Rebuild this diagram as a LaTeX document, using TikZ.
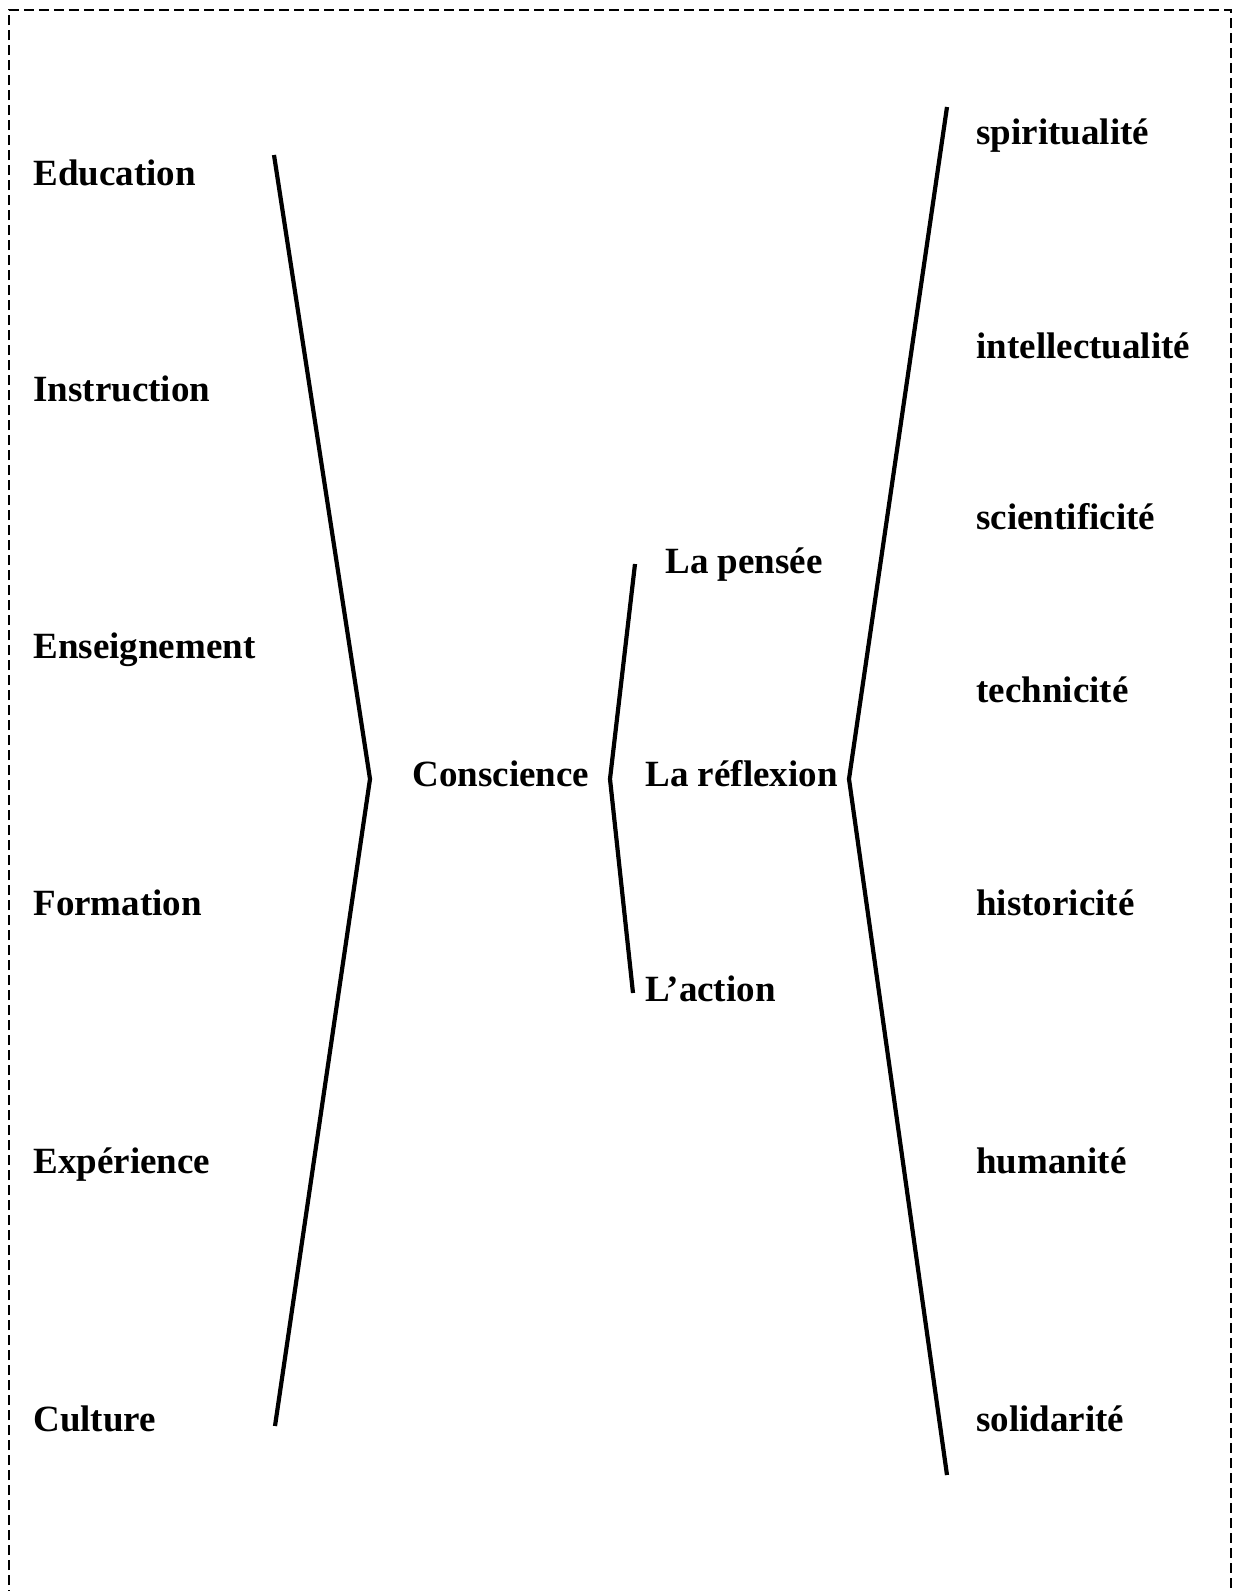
\documentclass[tikz,border=0pt]{standalone}
\usepackage{fontspec}
\setmainfont{Liberation Serif}
\tikzset{
  lbl/.style={anchor=base west, inner sep=0pt, font=\bfseries\fontsize{18.5}{22}\selectfont},
  brk/.style={line width=2.1pt, line join=miter},
  frame/.style={line width=1.4pt, dash pattern=on 5pt off 2.5pt}
}
\begin{document}
\begin{tikzpicture}[x=0.5pt,y=-0.5pt]
	\useasboundingbox (0,0) rectangle (1235,1591);
	%% dashed frame, its bottom edge lies below the page
	\draw[frame] (9,1600) -- (9,10) -- (1231,10) -- (1231,1600);

	% left column
	\node[lbl] (edu) at (33,185) {Education};
	\node[lbl] (ins) at (33,401) {Instruction};
	\node[lbl] (ens) at (33,658) {Enseignement};
	\node[lbl] (for) at (33,915) {Formation};
	\node[lbl] (exp) at (33,1173) {Expérience};
	\node[lbl] (cul) at (33,1431) {Culture};

	% middle
	\node[lbl] (cons) at (412,786) {Conscience};
	\node[lbl] (pens) at (665,573) {La pensée};
	\node[lbl] (refl) at (645,786) {La réflexion};
	\node[lbl] (act) at (645,1001) {L’action};

	% right column
	\node[lbl] (spi) at (976,144) {spiritualité};
	\node[lbl] (int) at (976,358) {intellectualité};
	\node[lbl] (sci) at (976,529) {scientificité};
	\node[lbl] (tec) at (976,702) {technicité};
	\node[lbl] (his) at (976,915) {historicité};
	\node[lbl] (hum) at (976,1173) {humanité};
	\node[lbl] (sol) at (976,1431) {solidarité};

	%% brackets
	\coordinate (ltop) at (274,155);
	\coordinate (ltip) at (370,779);
	\coordinate (lbot) at (275,1426);
	\draw[brk] (ltop) -- (ltip) -- (lbot);

	\coordinate (mtop) at (635,564);
	\coordinate (mtip) at (610,779);
	\coordinate (mbot) at (633,993);
	\draw[brk] (mtop) -- (mtip) -- (mbot);

	\coordinate (rtop) at (947,107);
	\coordinate (rtip) at (849,779);
	\coordinate (rbot) at (947,1475);
	\draw[brk] (rtop) -- (rtip) -- (rbot);
\end{tikzpicture}
\end{document}
